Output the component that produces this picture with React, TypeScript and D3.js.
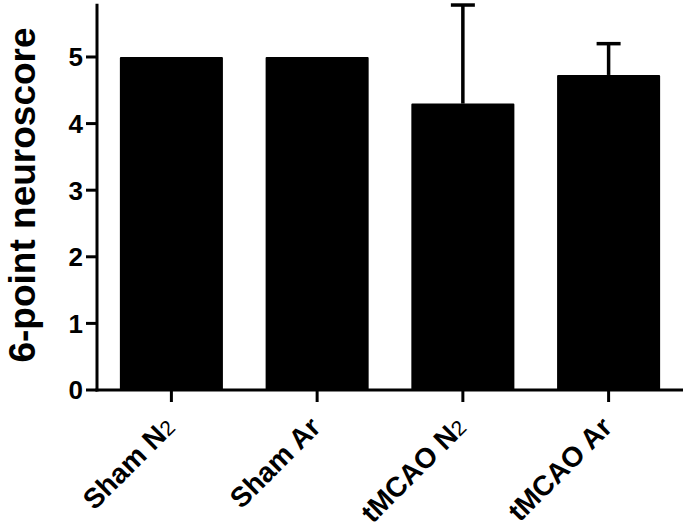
import React from "react";
import * as d3 from "d3";

const categories = ["Sham N2", "Sham Ar", "tMCAO N2", "tMCAO Ar"];
const labelMain = ["Sham N", "Sham Ar", "tMCAO N", "tMCAO Ar"];
const labelSub = ["2", "", "2", ""];
const means = [5, 5, 4.3, 4.73];
const errors = [0, 0, 1.48, 0.47];
const yTicks = [0, 1, 2, 3, 4, 5];

const W = 685;
const H = 526;
const FONT = "'Liberation Sans', Arial, Helvetica, sans-serif";

export default function App() {
  const x = d3
    .scaleBand<string>()
    .domain(categories)
    .range([97, 683])
    .paddingInner(0.293)
    .paddingOuter(0.157);
  const y = d3.scaleLinear().domain([0, 5.8]).range([390, 3.7]);
  const bw = x.bandwidth();

  return (
    <svg
      width={W}
      height={H}
      style={{ position: "absolute", left: 0, top: 0 }}
      fontFamily={FONT}
    >
      <rect x={0} y={0} width={W} height={H} fill="#fff" />
      {/* bars */}
      {categories.map((c, i) => (
        <rect
          key={c}
          x={(x(c) as number) + 1}
          y={y(means[i]) + 1}
          width={bw - 2}
          height={y(0) - y(means[i]) - 1}
          fill="#000"
          stroke="#000"
          strokeWidth={2}
          strokeLinejoin="round"
        />
      ))}
      {/* error bars */}
      {categories.map((c, i) =>
        errors[i] > 0 ? (
          <g key={"e" + c} stroke="#000" strokeWidth={3.5}>
            <line
              x1={(x(c) as number) + bw / 2}
              x2={(x(c) as number) + bw / 2}
              y1={y(means[i])}
              y2={y(means[i] + errors[i])}
            />
            <line
              x1={(x(c) as number) + bw / 2 - 12}
              x2={(x(c) as number) + bw / 2 + 12}
              y1={y(means[i] + errors[i])}
              y2={y(means[i] + errors[i])}
            />
          </g>
        ) : null
      )}
      {/* y axis */}
      <line x1={97} x2={97} y1={y(5.8)} y2={y(0) + 1.5} stroke="#000" strokeWidth={3} />
      {yTicks.map((t) => (
        <g key={"yt" + t}>
          <line x1={86} x2={97} y1={y(t)} y2={y(t)} stroke="#000" strokeWidth={3} />
          <text
            x={83}
            y={y(t)}
            dy="0.36em"
            textAnchor="end"
            fontSize={26}
            fontWeight="bold"
          >
            {t}
          </text>
        </g>
      ))}
      {/* x axis */}
      <line x1={95.5} x2={683} y1={y(0)} y2={y(0)} stroke="#000" strokeWidth={3} />
      {categories.map((c, i) => {
        const cx = (x(c) as number) + bw / 2;
        return (
          <g key={"xt" + c}>
            <line x1={cx} x2={cx} y1={y(0)} y2={y(0) + 12} stroke="#000" strokeWidth={3} />
            <text
              transform={`translate(${cx + 5},${y(0) + 39}) rotate(-45)`}
              textAnchor="end"
              fontSize={28}
              fontWeight="bold"
            >
              {labelMain[i]}
              {labelSub[i] ? (
                <tspan fontWeight="normal" fontSize={21}>
                  {labelSub[i]}
                </tspan>
              ) : null}
            </text>
          </g>
        );
      })}
      {/* y label */}
      <text
        transform={`translate(35,${195}) rotate(-90)`}
        textAnchor="middle"
        fontSize={37}
        fontWeight="bold"
      >
        6-point neuroscore
      </text>
    </svg>
  );
}
